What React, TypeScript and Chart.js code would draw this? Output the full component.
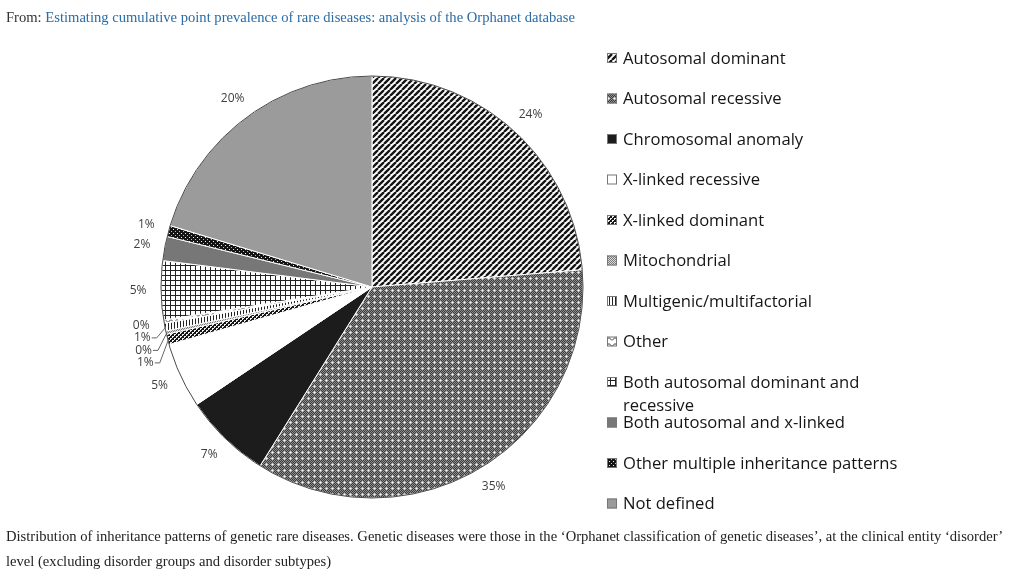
import React, { useEffect, useRef } from "react";
import { Chart, registerables } from "chart.js";

Chart.register(...registerables);

// ---- data ----
const categories: string[] = [
  "Autosomal dominant",
  "Autosomal recessive",
  "Chromosomal anomaly",
  "X-linked recessive",
  "X-linked dominant",
  "Mitochondrial",
  "Multigenic/multifactorial",
  "Other",
  "Both autosomal dominant and\nrecessive",
  "Both autosomal and x-linked",
  "Other multiple inheritance patterns",
  "Not defined",
];
const shares: number[] = [23.7, 35.2, 6.7, 5.0, 0.8, 0.25, 0.6, 0.25, 4.5, 1.85, 0.85, 20.3];
const fillKinds: string[] = [
  "diag", "dots", "black", "white", "checker", "fine",
  "vlines", "zigzag", "grid", "darkgrey", "blackdots", "grey",
];
const sourceTitle = "Estimating cumulative point prevalence of rare diseases: analysis of the Orphanet database";
const captionLine1 =
  "Distribution of inheritance patterns of genetic rare diseases. Genetic diseases were those in the \u2018Orphanet classification of genetic diseases\u2019, at the clinical entity \u2018disorder\u2019";
const captionLine2 = "level (excluding disorder groups and disorder subtypes)";

// ---- patterns ----
function tile(size: number, draw: (g: CanvasRenderingContext2D, s: number) => void) {
  const c = document.createElement("canvas");
  c.width = size;
  c.height = size;
  const g = c.getContext("2d")!;
  draw(g, size);
  return c;
}

function makeFill(ctx: CanvasRenderingContext2D, kind: string): any {
  const px = (g: CanvasRenderingContext2D, x: number, y: number, col: string) => {
    g.fillStyle = col;
    g.fillRect(x, y, 1, 1);
  };
  switch (kind) {
    case "diag":
      return ctx.createPattern(
        tile(6, (g) => {
          g.fillStyle = "#fff";
          g.fillRect(0, 0, 6, 6);
          g.strokeStyle = "#151515";
          g.lineWidth = 2.4;
          g.beginPath();
          for (const o of [-6, 0, 6]) {
            g.moveTo(o, 6);
            g.lineTo(o + 6, 0);
          }
          g.stroke();
        }),
        "repeat"
      );
    case "dots":
      return ctx.createPattern(
        tile(6, (g) => {
          for (let x = 0; x < 6; x++)
            for (let y = 0; y < 6; y++) px(g, x, y, (x + y) % 2 ? "#3c3c3c" : "#8e8e8e");
          for (const [x, y] of [[2, 1], [1, 2], [3, 2], [2, 3]]) px(g, x, y, "#c8c8c8");
          px(g, 2, 2, "#ffffff");
        }),
        "repeat"
      );
    case "black":
      return "#1c1c1c";
    case "white":
      return "#ffffff";
    case "checker":
      return ctx.createPattern(
        tile(4, (g) => {
          g.fillStyle = "#151515";
          g.fillRect(0, 0, 4, 4);
          for (const [x, y] of [[0, 0], [1, 0], [0, 1], [2, 2], [3, 2], [2, 3]]) px(g, x, y, "#f0f0f0");
        }),
        "repeat"
      );
    case "fine":
      return ctx.createPattern(
        tile(2, (g) => {
          px(g, 0, 0, "#777");
          px(g, 1, 1, "#777");
          px(g, 1, 0, "#dcdcdc");
          px(g, 0, 1, "#dcdcdc");
        }),
        "repeat"
      );
    case "vlines":
      return ctx.createPattern(
        tile(3, (g) => {
          g.fillStyle = "#fff";
          g.fillRect(0, 0, 3, 3);
          g.fillStyle = "#222";
          g.fillRect(0, 0, 1, 3);
        }),
        "repeat"
      );
    case "zigzag":
      return ctx.createPattern(
        tile(6, (g) => {
          g.fillStyle = "#fff";
          g.fillRect(0, 0, 6, 6);
          g.strokeStyle = "#333";
          g.lineWidth = 1;
          g.beginPath();
          g.moveTo(0, 4.5);
          g.lineTo(3, 1.5);
          g.lineTo(6, 4.5);
          g.stroke();
        }),
        "repeat"
      );
    case "grid":
      return ctx.createPattern(
        tile(5, (g) => {
          g.fillStyle = "#fff";
          g.fillRect(0, 0, 5, 5);
          g.fillStyle = "#222";
          g.fillRect(0, 0, 5, 1);
          g.fillRect(0, 0, 1, 5);
        }),
        "repeat"
      );
    case "darkgrey":
      return "#777777";
    case "blackdots":
      return ctx.createPattern(
        tile(4, (g) => {
          g.fillStyle = "#141414";
          g.fillRect(0, 0, 4, 4);
          px(g, 1, 1, "#eeeeee");
          px(g, 3, 3, "#bbbbbb");
        }),
        "repeat"
      );
    default:
      return "#9b9b9b";
  }
}

// ---- plugins ----
const LABEL_FONT = "12px 'Open Sans'";
const LEGEND_FONT = "16.6px 'Open Sans'";

const outlinePlugin = {
  id: "outline",
  afterDatasetsDraw(chart: any) {
    const meta = chart.getDatasetMeta(0);
    const a = meta.data[0];
    if (!a) return;
    const ctx = chart.ctx;
    ctx.save();
    ctx.strokeStyle = "#4a4a4a";
    ctx.lineWidth = 1;
    ctx.beginPath();
    ctx.arc(a.x, a.y, a.outerRadius, 0, Math.PI * 2);
    ctx.stroke();
    ctx.restore();
  },
};

const percentLabelPlugin = {
  id: "pctLabels",
  afterDatasetsDraw(chart: any) {
    const meta = chart.getDatasetMeta(0);
    const ctx = chart.ctx;
    const values: number[] = chart.data.datasets[0].data;
    const total = values.reduce((s, v) => s + v, 0);
    const items = meta.data.map((arc: any, i: number) => {
      const mid = (arc.startAngle + arc.endAngle) / 2;
      const d = arc.outerRadius + 23;
      return {
        i,
        mid,
        arc,
        x: arc.x + Math.cos(mid) * d,
        y: arc.y + Math.sin(mid) * d,
        ny: arc.y + Math.sin(mid) * d,
        text: Math.round((values[i] / total) * 100) + "%",
      };
    });
    // avoid overlaps on the left side
    const left = items.filter((it: any) => Math.cos(it.mid) < 0).sort((a: any, b: any) => a.y - b.y);
    for (let k = 1; k < left.length; k++) {
      if (left[k].y - left[k - 1].y < 12.5) left[k].y = left[k - 1].y + 12.5;
    }
    ctx.save();
    ctx.font = LABEL_FONT;
    ctx.fillStyle = "#404040";
    ctx.textAlign = "center";
    ctx.textBaseline = "middle";
    for (const it of items) {
      ctx.fillText(it.text, it.x, it.y);
      if (Math.abs(it.y - it.ny) > 1.5) {
        const w = ctx.measureText(it.text).width;
        const ex = it.arc.x + Math.cos(it.mid) * (it.arc.outerRadius - 1);
        const ey = it.arc.y + Math.sin(it.mid) * (it.arc.outerRadius - 1);
        ctx.save();
        ctx.strokeStyle = "#666";
        ctx.lineWidth = 1;
        ctx.beginPath();
        ctx.moveTo(it.x + w / 2 + 1, it.y);
        ctx.lineTo(it.x + w / 2 + 6, it.y);
        ctx.lineTo(ex, ey);
        ctx.stroke();
        ctx.restore();
      }
    }
    ctx.restore();
  },
};

const LEGEND_X = 607;
const LEGEND_TOP = 58;
const LEGEND_STEP = 40.5;

const legendPlugin = {
  id: "patternLegend",
  afterDraw(chart: any) {
    const ctx = chart.ctx;
    const fills = chart.data.datasets[0].backgroundColor;
    ctx.save();
    ctx.font = LEGEND_FONT;
    ctx.textBaseline = "middle";
    ctx.textAlign = "left";
    chart.data.labels.forEach((label: string, i: number) => {
      const y = LEGEND_TOP + i * LEGEND_STEP;
      ctx.fillStyle = fills[i];
      ctx.fillRect(LEGEND_X, y - 5, 10, 10);
      ctx.strokeStyle = "#777";
      ctx.lineWidth = 1;
      ctx.strokeRect(LEGEND_X + 0.5, y - 4.5, 9, 9);
      ctx.fillStyle = "#151515";
      String(label)
        .split("\n")
        .forEach((line, j) => ctx.fillText(line, LEGEND_X + 16, y + 1 + j * 23));
    });
    ctx.restore();
  },
};

export default function App() {
  const ref = useRef<HTMLCanvasElement>(null);
  useEffect(() => {
    const canvas = ref.current!;
    const ctx = canvas.getContext("2d")!;
    const fills = fillKinds.map((k) => makeFill(ctx, k));
    const chart = new Chart(canvas, {
      type: "pie",
      data: {
        labels: categories,
        datasets: [
          {
            data: shares,
            backgroundColor: fills,
            borderColor: "#ffffff",
            borderWidth: 1,
            radius: 211,
          } as any,
        ],
      },
      options: {
        responsive: false,
        animation: false,
        layout: { padding: { left: 161, right: 441, top: 76, bottom: 78 } },
        plugins: {
          legend: { display: false },
          tooltip: { enabled: false },
        },
      },
      plugins: [outlinePlugin, percentLabelPlugin, legendPlugin],
    });
    return () => chart.destroy();
  }, []);

  const serif = "'Liberation Serif', 'Times New Roman', serif";
  return (
    <div style={{ position: "absolute", left: 0, top: 0, width: 1024, height: 576, background: "#fff", overflow: "hidden" }}>
      <canvas ref={ref} width={1024} height={576} style={{ position: "absolute", left: 0, top: 0, display: "block" }} />
      <div
        style={{
          position: "absolute",
          left: 6,
          top: 8,
          fontFamily: serif,
          fontSize: 14.6,
          lineHeight: "18px",
          color: "#333",
          whiteSpace: "nowrap",
        }}
      >
        From: <span style={{ color: "#2a6ca6" }}>{sourceTitle}</span>
      </div>
      <div
        style={{
          position: "absolute",
          left: 6,
          top: 524,
          fontFamily: serif,
          fontSize: 14.6,
          lineHeight: "25px",
          color: "#222",
          whiteSpace: "nowrap",
        }}
      >
        <div>{captionLine1}</div>
        <div>{captionLine2}</div>
      </div>
    </div>
  );
}
